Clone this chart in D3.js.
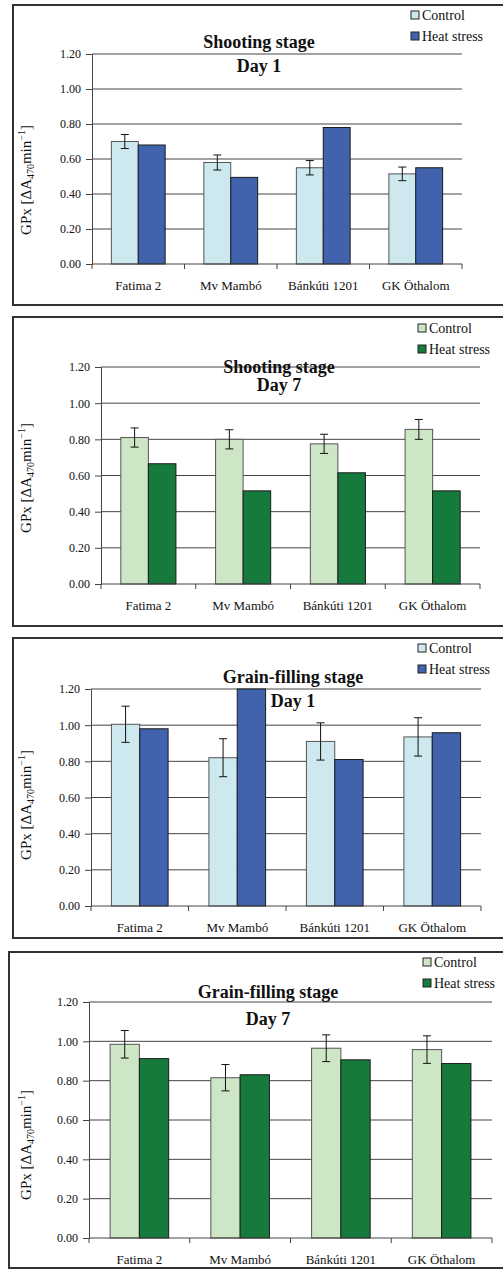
<!DOCTYPE html>
<html>
<head>
<meta charset="utf-8">
<script src="https://cdn.jsdelivr.net/npm/d3@7"></script>
<style>
  body { margin: 0; background: #fff; }
  svg { display: block; }
  svg text { font-family: 'Liberation Serif', 'Times New Roman', Times, 'DejaVu Serif', serif; }
</style>
</head>
<body>
<svg id="chart" width="503" height="1269"></svg>
<script>
// data
var cultivars = ["Fatima 2", "Mv Mambó", "Bánkúti 1201", "GK Öthalom"];
var yTicks = [0, 0.2, 0.4, 0.6, 0.8, 1.0, 1.2];
var seriesNames = ["Control", "Heat stress"];

var shootDay1Control = [0.70, 0.58, 0.55, 0.515];
var shootDay1Err     = [0.04, 0.043, 0.041, 0.039];
var shootDay1Heat    = [0.68, 0.495, 0.78, 0.55];

var shootDay7Control = [0.81, 0.80, 0.775, 0.855];
var shootDay7Err     = [0.053, 0.053, 0.053, 0.055];
var shootDay7Heat    = [0.665, 0.515, 0.615, 0.515];

var grainDay1Control = [1.005, 0.82, 0.91, 0.935];
var grainDay1Err     = [0.10, 0.105, 0.103, 0.106];
var grainDay1Heat    = [0.98, 1.20, 0.81, 0.958];

var grainDay7Control = [0.985, 0.815, 0.965, 0.958];
var grainDay7Err     = [0.07, 0.067, 0.068, 0.07];
var grainDay7Heat    = [0.912, 0.83, 0.906, 0.887];

var blues  = ["#cde9ef", "#4163ae"];
var greens = ["#cde6c6", "#177a3d"];

var panels = [
  { stage: "Shooting stage", day: "Day 1", control: shootDay1Control, err: shootDay1Err, heat: shootDay1Heat, colors: blues,
    box: [13, 5, 300], plot: [92, 462, 54, 264], title: [259, 48, 72], legend: [411, 15], labelY: 180 },
  { stage: "Shooting stage", day: "Day 7", control: shootDay7Control, err: shootDay7Err, heat: shootDay7Heat, colors: greens,
    box: [13, 317, 309], plot: [101, 480, 367, 584], title: [279, 373, 391], legend: [418, 328], labelY: 478 },
  { stage: "Grain-filling stage", day: "Day 1", control: grainDay1Control, err: grainDay1Err, heat: grainDay1Heat, colors: blues,
    box: [13, 638, 300], plot: [91, 481, 689, 906], title: [293, 683, 707], legend: [418, 648], labelY: 805 },
  { stage: "Grain-filling stage", day: "Day 7", control: grainDay7Control, err: grainDay7Err, heat: grainDay7Heat, colors: greens,
    box: [9, 952, 316], plot: [89, 492, 1002, 1238], title: [268, 998, 1025], legend: [423, 962], labelY: 1145 }
];

var svg = d3.select("#chart");

panels.forEach(function(p) {
  var g = svg.append("g");
  var L = p.plot[0], R = p.plot[1], T = p.plot[2], B = p.plot[3];

  // frame around the panel
  g.append("rect")
    .attr("x", p.box[0]).attr("y", p.box[1])
    .attr("width", 520).attr("height", p.box[2])
    .attr("fill", "none").attr("stroke", "#333").attr("stroke-width", 2);

  var x = d3.scaleBand().domain(cultivars).range([L, R]);
  var xSub = d3.scaleBand().domain(seriesNames).range([0, x.bandwidth()])
    .paddingInner(0).paddingOuter(0.72);
  var y = d3.scaleLinear().domain([0, 1.2]).range([B, T]);

  // gridlines
  g.append("g").selectAll("line")
    .data(yTicks.filter(function(d) { return d > 0; }))
    .enter().append("line")
    .attr("x1", L).attr("x2", R)
    .attr("y1", function(d) { return y(d); })
    .attr("y2", function(d) { return y(d); })
    .attr("stroke", "#444").attr("stroke-width", 1);

  // y axis
  var yAxis = d3.axisLeft(y).tickValues(yTicks).tickSize(6).tickPadding(5)
    .tickFormat(d3.format(".2f"));
  var ya = g.append("g").attr("transform", "translate(" + L + ",0)").call(yAxis)
    .attr("font-size", 12);
  ya.selectAll("line, path").attr("stroke", "#444");
  ya.selectAll("text").attr("fill", "#111");

  // bars
  var rows = cultivars.map(function(c, i) {
    return { cultivar: c, vals: [
      { s: "Control", v: p.control[i], e: p.err[i] },
      { s: "Heat stress", v: p.heat[i], e: null } ] };
  });

  var grp = g.append("g").selectAll("g").data(rows).enter().append("g")
    .attr("transform", function(d) { return "translate(" + x(d.cultivar) + ",0)"; });

  grp.selectAll("rect").data(function(d) { return d.vals; }).enter().append("rect")
    .attr("x", function(d) { return xSub(d.s); })
    .attr("y", function(d) { return y(d.v); })
    .attr("width", xSub.bandwidth())
    .attr("height", function(d) { return B - y(d.v); })
    .attr("fill", function(d, i) { return p.colors[i]; })
    .attr("stroke", function(d, i) { return i === 0 ? "#555" : "#1a1a1a"; })
    .attr("stroke-width", 1);

  // error bars on control
  var eb = grp.append("g").datum(function(d) { return d.vals[0]; });
  var cx = function(d) { return xSub(d.s) + xSub.bandwidth() / 2; };
  eb.append("line")
    .attr("x1", cx).attr("x2", cx)
    .attr("y1", function(d) { return y(d.v + d.e); })
    .attr("y2", function(d) { return y(d.v - d.e); })
    .attr("stroke", "#111");
  [1, -1].forEach(function(sgn) {
    eb.append("line")
      .attr("x1", function(d) { return cx(d) - 4; })
      .attr("x2", function(d) { return cx(d) + 4; })
      .attr("y1", function(d) { return y(d.v + sgn * d.e); })
      .attr("y2", function(d) { return y(d.v + sgn * d.e); })
      .attr("stroke", "#111");
  });

  // x axis: baseline, ticks between categories, labels
  g.append("line").attr("x1", L).attr("x2", R).attr("y1", B).attr("y2", B).attr("stroke", "#444");
  var bounds = cultivars.map(function(c) { return x(c); }).concat([R]);
  g.append("g").selectAll("line").data(bounds).enter().append("line")
    .attr("x1", function(d) { return d; }).attr("x2", function(d) { return d; })
    .attr("y1", B).attr("y2", B + 5).attr("stroke", "#444");
  var xa = g.append("g").attr("transform", "translate(0," + B + ")")
    .call(d3.axisBottom(x).tickSize(0).tickPadding(17))
    .attr("font-size", 13);
  xa.select(".domain").remove();
  xa.selectAll("text").attr("fill", "#111");

  // y label
  var lab = g.append("text")
    .attr("transform", "translate(31," + p.labelY + ") rotate(-90)")
    .attr("text-anchor", "middle").attr("font-size", 15).attr("fill", "#111");
  lab.append("tspan").text("GPx [ΔA");
  lab.append("tspan").attr("dy", 3).attr("font-size", 10).text("470");
  lab.append("tspan").attr("dy", -3).text("min");
  lab.append("tspan").attr("dy", -6).attr("font-size", 10).text("−1");
  lab.append("tspan").attr("dy", 6).text("]");

  // titles
  [[p.stage, p.title[1]], [p.day, p.title[2]]].forEach(function(t) {
    g.append("text").attr("x", p.title[0]).attr("y", t[1])
      .attr("text-anchor", "middle")
      .attr("font-size", 18).attr("font-weight", "bold").attr("fill", "#111")
      .text(t[0]);
  });

  // legend
  var lg = g.append("g").selectAll("g").data(seriesNames).enter().append("g")
    .attr("transform", function(d, i) { return "translate(" + p.legend[0] + "," + (p.legend[1] + i * 21) + ")"; });
  lg.append("rect").attr("x", 0).attr("y", -4).attr("width", 8).attr("height", 8)
    .attr("fill", function(d, i) { return p.colors[i]; })
    .attr("stroke", "#222");
  lg.append("text").attr("x", 11).attr("y", 5)
    .attr("font-size", 14).attr("fill", "#111")
    .text(function(d) { return d; });
});
</script>
</body>
</html>
